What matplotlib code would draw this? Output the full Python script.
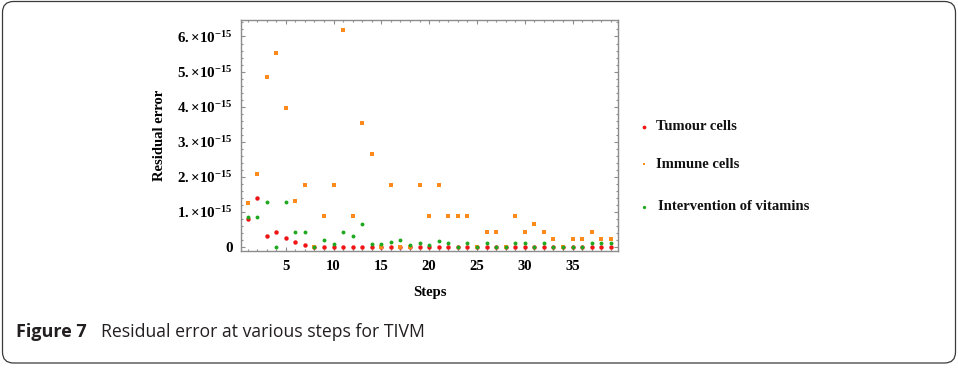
import numpy as np
import matplotlib
matplotlib.use("Agg")
import matplotlib.pyplot as plt
from matplotlib.patches import FancyBboxPatch

# Residual errors, in units of 1e-15, for steps 1..39
steps = np.arange(1, 40)
tumour = [0.80, 1.40, 0.31, 0.42, 0.26, 0.14, 0.06, 0.01, 0.01, 0.01,
          0.0, 0.0, 0.0, 0.0, 0.0, 0.0, 0.0, 0.0, 0.0, 0.0,
          0.0, 0.0, 0.0, 0.0, 0.0, 0.0, 0.0, 0.0, 0.0, 0.0,
          0.0, 0.0, 0.0, 0.0, 0.0, 0.0, 0.0, 0.0, 0.0]
immune = [1.26, 2.09, 4.85, 5.52, 3.97, 1.32, 1.76, 0.0, 0.87, 1.76,
          6.18, 0.87, 3.54, 2.65, 0.0, 1.76, 0.0, 0.0, 1.76, 0.87,
          1.76, 0.87, 0.87, 0.87, 0.0, 0.44, 0.44, 0.0, 0.87, 0.44,
          0.66, 0.44, 0.22, 0.0, 0.22, 0.22, 0.44, 0.22, 0.22]
vitamins = [0.85, 0.85, 1.29, 0.0, 1.29, 0.42, 0.42, 0.0, 0.20, 0.09,
            0.42, 0.30, 0.65, 0.09, 0.09, 0.14, 0.20, 0.06, 0.11, 0.06,
            0.16, 0.11, 0.0, 0.11, 0.0, 0.11, 0.0, 0.0, 0.11, 0.11,
            0.0, 0.11, 0.0, 0.0, 0.0, 0.0, 0.11, 0.11, 0.11]
SCALE = 1e-15

x_ticks = [5, 10, 15, 20, 25, 30, 35]
y_ticks = [0, 1, 2, 3, 4, 5, 6]
y_tick_labels = ["0"] + [r"$%d.{\times}10^{-15}$" % v for v in y_ticks[1:]]

series = [
    ("Tumour cells", tumour, "#f01414"),
    ("Immune cells", immune, "#ff8a1c"),
    ("Intervention of vitamins", vitamins, "#1fa81f"),
]

plt.rcParams["font.family"] = ["Liberation Serif", "DejaVu Serif"]
plt.rcParams["font.weight"] = "bold"
plt.rcParams["mathtext.fontset"] = "custom"
plt.rcParams["mathtext.rm"] = "Liberation Serif:bold"
plt.rcParams["mathtext.it"] = "Liberation Serif:italic:bold"
plt.rcParams["mathtext.bf"] = "Liberation Serif:bold"

W, H = 958, 373
fig = plt.figure(figsize=(W / 100, H / 100), dpi=100)

# overlay in pixel units for the border, caption and legend
over = fig.add_axes([0, 0, 1, 1], zorder=0)
over.set_xlim(0, W)
over.set_ylim(H, 0)
over.axis("off")
over.add_patch(FancyBboxPatch((2.5, 1.5), 953, 361.5,
                              boxstyle="round,pad=0,rounding_size=11",
                              fill=False, edgecolor="#3a3a3a", linewidth=0.9))
cap_font = ["Open Sans", "DejaVu Sans"]
over.text(16, 332, "Figure 7", family=cap_font, weight="bold", fontsize=13,
          color="#231f20", va="center", ha="left")
over.text(101.5, 332, "Residual error at various steps for TIVM", family=cap_font,
          weight="normal", fontsize=12.7, color="#231f20", va="center", ha="left")

# main plot frame
left, right, top, bottom = 241, 618, 20, 250.5
ax = fig.add_axes([left / W, 1 - bottom / H, (right - left) / W, (bottom - top) / H],
                  zorder=1)
ax.patch.set_alpha(0)

sizes = {"Tumour cells": ("o", 3.2), "Immune cells": ("s", 2.3),
         "Intervention of vitamins": ("o", 2.8)}
order = [1, 2, 0]
for i in order:
    name, vals, col = series[i]
    m, ms = sizes[name]
    ax.plot(steps, np.array(vals) * SCALE, linestyle="none", marker=m,
            markersize=ms, color=col, markeredgewidth=0, zorder=3 + i)

ax.set_xlim(0.32, 39.75)
ax.set_ylim(-0.1 * SCALE, 6.47 * SCALE)
ax.set_xticks(x_ticks)
ax.set_xticks(np.arange(1, 40), minor=True)
ax.set_yticks(np.array(y_ticks) * SCALE)
ax.set_yticks(np.arange(0, 6.41, 0.2) * SCALE, minor=True)
ax.set_yticklabels(y_tick_labels)
ax.set_xticklabels([str(v) for v in x_ticks])

frame_col = "#8c8c8c"
for sp in ax.spines.values():
    sp.set_color(frame_col)
    sp.set_linewidth(1.0)
ax.tick_params(which="both", direction="in", top=True, right=True,
               color=frame_col, width=0.8)
ax.tick_params(which="major", length=3.2)
ax.tick_params(which="minor", length=1.6)
ax.tick_params(axis="x", which="major", labelsize=10.5, pad=7)
ax.tick_params(axis="y", which="major", labelsize=10.8, pad=6)
ax.tick_params(axis="y", which="both", labelright=False)

ax.set_xlabel("Steps", fontsize=10.5, fontweight="bold", labelpad=9)
ax.set_ylabel("Residual error", fontsize=10.5, fontweight="bold", labelpad=8)

# legend entries
leg_y = [127, 164, 207]
for (name, vals, col), y in zip(series, leg_y):
    m, ms = sizes[name]
    over.plot([644.5], [y], linestyle="none", marker=m, markersize=ms * 0.85,
              color=col, markeredgewidth=0)
    over.text(656 if y < 200 else 658, y, name, fontsize=10.5, weight="bold",
              va="center", ha="left", color="#111111")

fig.savefig("out.png", dpi=100)
